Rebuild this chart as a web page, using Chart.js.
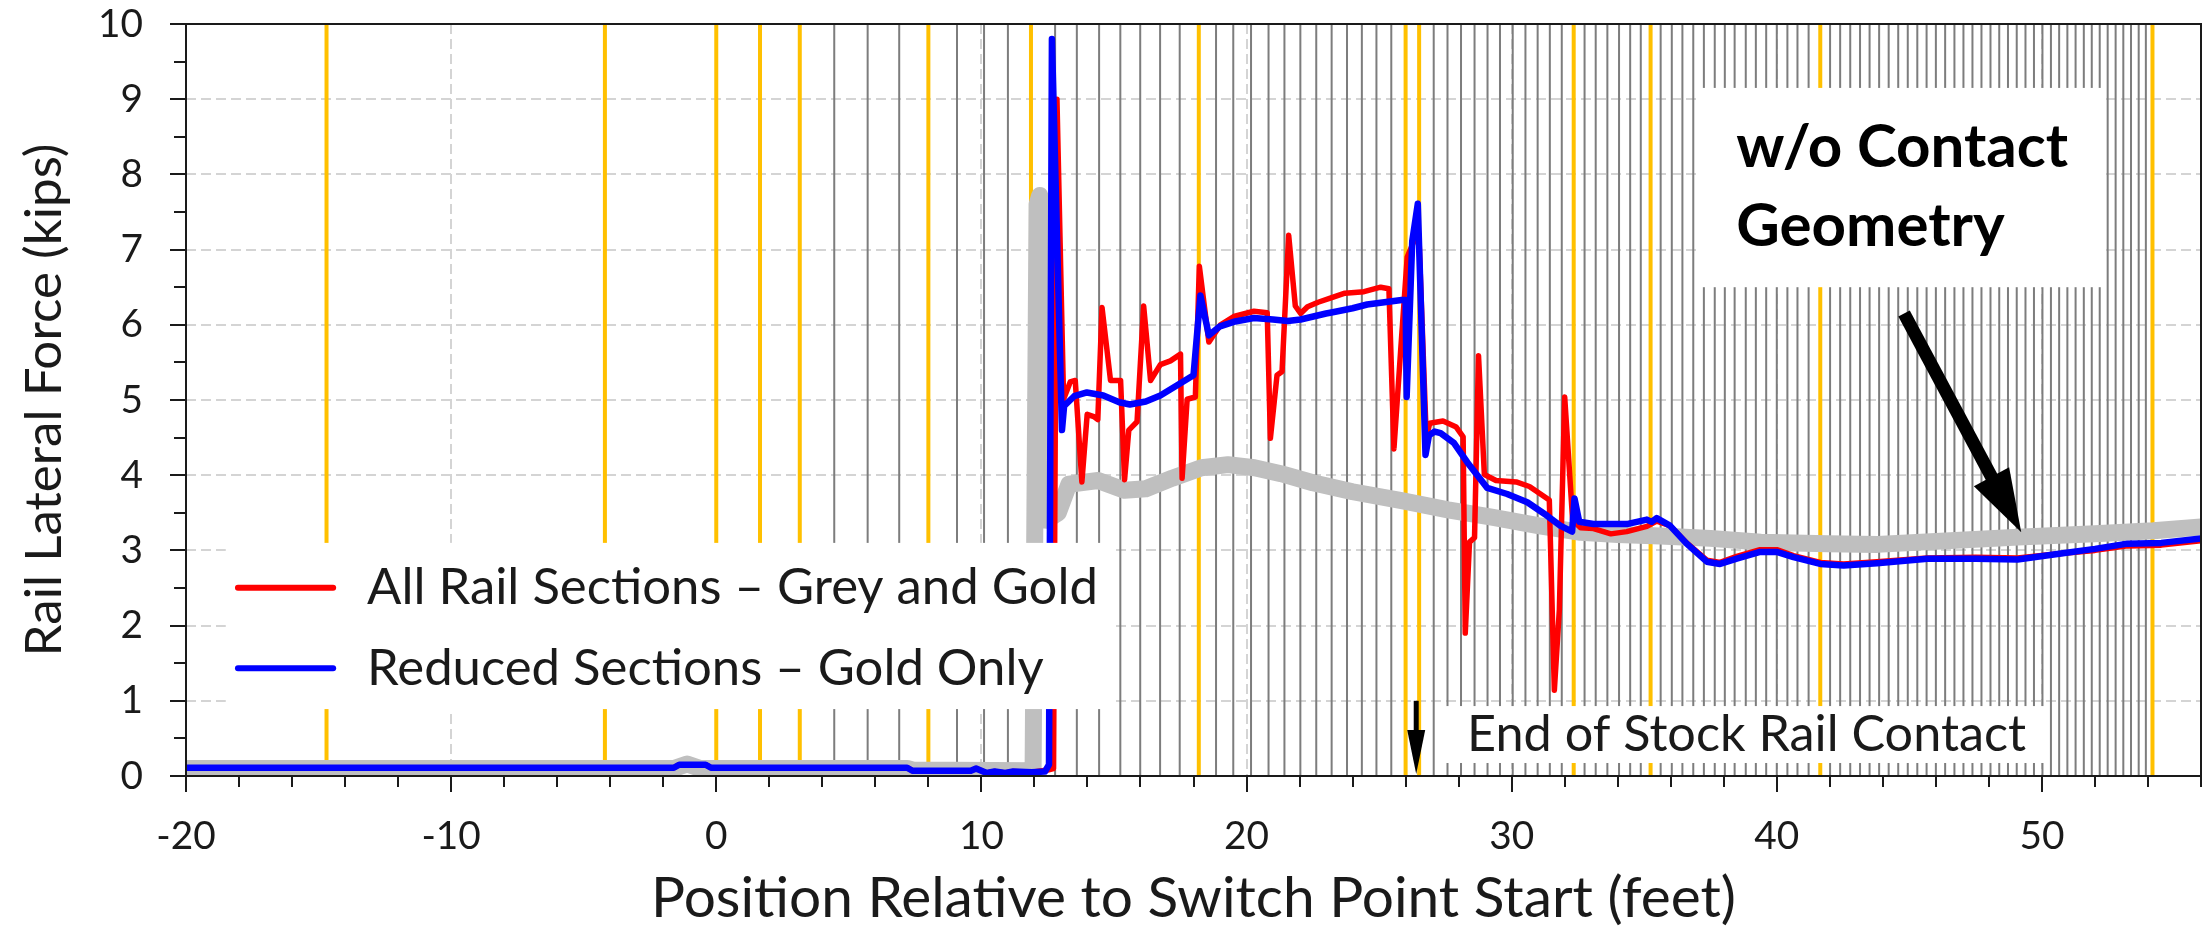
<!DOCTYPE html>
<html><head><meta charset="utf-8">
<script src="https://cdn.jsdelivr.net/npm/chart.js@4.4.0/dist/chart.umd.min.js"></script>
<style>html,body{margin:0;padding:0;background:#fff;}canvas{display:block;}</style>
</head><body>
<canvas id="c" width="2211" height="931"></canvas>
<script>
// ---------------- data ----------------
const xAxisRange = [-20, 56];
const yAxisRange = [0, 10];
const xTickLabels = [-20, -10, 0, 10, 20, 30, 40, 50];
const yTickLabels = [0, 1, 2, 3, 4, 5, 6, 7, 8, 9, 10];

const seriesNames = ['All Rail Sections \u2013 Grey and Gold', 'Reduced Sections \u2013 Gold Only'];

// gold rail-section positions (feet)
const goldSections = [-14.7, -4.2, 0, 1.65, 3.15, 8.0, 11.87, 18.2, 26.0, 26.51, 32.34, 35.24, 41.64, 54.17];
// grey rail-section positions (feet)
const greySections = [4.45, 5.71, 6.9, 9.08, 10.1, 11.0, 12.78, 13.6, 14.44, 15.24, 15.99, 16.74, 17.48,
  18.85, 19.5, 20.17, 20.83, 21.43, 22.03, 22.63, 23.21, 23.79, 24.35, 24.9, 25.46, 27.06, 27.58, 28.09,
  28.6, 29.09, 29.56, 30.04, 30.52, 30.98, 31.44, 31.89, 32.75, 33.17, 33.61, 34.05, 34.47, 34.87, 35.62,
  36.04, 36.44, 36.85, 37.25, 37.66, 38.04, 38.41, 38.83, 39.21, 39.6, 40.0, 40.4, 40.78, 41.2, 42.01,
  42.39, 42.77, 43.14, 43.5, 43.86, 44.22, 44.58, 44.94, 45.3, 45.65, 46.0, 46.35, 46.7, 47.04, 47.38,
  47.72, 48.06, 48.39, 48.72, 49.05, 49.38, 49.7, 50.02, 50.34, 50.65, 50.96, 51.27, 51.58, 51.88,
  52.18, 52.48, 52.78, 53.07, 53.36, 53.65, 53.92];

// w/o contact geometry (thick grey)
const greySeries = [[-20,0.1],[-1.6,0.1],[-1.1,0.16],[-0.6,0.1],[7.2,0.1],[7.4,0.08],[11.95,0.07],
  [12.1,7.6],[12.2,7.72],[12.3,7.6],[12.45,3.4],[12.9,3.5],[13.3,3.88],[14.4,3.93],[15.4,3.8],[16.2,3.82],
  [17.2,3.96],[18.3,4.1],[19.3,4.14],[20.3,4.1],[21.3,4.02],[22.5,3.9],[24.0,3.78],[25.9,3.66],[27.6,3.54],
  [29.3,3.44],[31.0,3.33],[32.6,3.24],[34.0,3.21],[35.6,3.19],[37.5,3.16],[39.4,3.11],[41.9,3.09],
  [43.8,3.08],[46.0,3.12],[49.3,3.18],[52.0,3.22],[54.2,3.26],[56.0,3.31]];

// All Rail Sections – Grey and Gold (red)
const redSeries = [[-20,0.11],[-1.6,0.11],[-1.4,0.15],[-0.4,0.15],[-0.2,0.11],[7.2,0.11],[7.4,0.07],
  [9.6,0.07],[9.8,0.1],[10.2,0.04],[10.5,0.06],[10.9,0.04],[11.2,0.06],[11.9,0.05],[12.5,0.08],[12.72,0.1],
  [12.85,9.0],[13.1,5.01],[13.35,5.24],[13.54,5.26],[13.79,3.91],[13.99,4.81],[14.24,4.78],[14.39,4.74],
  [14.55,6.23],[14.87,5.26],[15.25,5.26],[15.4,3.94],[15.56,4.6],[15.87,4.71],[16.12,6.25],[16.38,5.26],
  [16.75,5.47],[17.13,5.52],[17.51,5.61],[17.57,3.96],[17.76,5.01],[18.07,5.04],[18.22,6.78],[18.58,5.77],
  [19.02,6.0],[19.52,6.11],[20.28,6.18],[20.78,6.16],[20.9,4.49],[21.15,5.33],[21.34,5.38],[21.59,7.19],
  [21.84,6.25],[22.04,6.15],[22.3,6.24],[22.7,6.3],[23.13,6.35],[23.71,6.42],[24.43,6.44],[25.06,6.5],
  [25.37,6.48],[25.56,4.35],[25.81,5.64],[26.06,6.9],[26.31,7.11],[26.5,7.2],[26.78,4.5],[26.91,4.69],
  [27.41,4.72],[27.91,4.64],[28.17,4.51],[28.25,1.9],[28.41,3.11],[28.6,3.17],[28.75,5.59],[28.97,4.01],
  [29.41,3.93],[30.17,3.91],[30.67,3.85],[31.42,3.67],[31.61,1.14],[31.8,2.22],[32.0,5.04],[32.3,3.4],
  [32.6,3.3],[33.09,3.29],[33.74,3.22],[34.34,3.25],[35.1,3.32],[35.47,3.39],[35.97,3.33],[36.6,3.1],
  [37.36,2.87],[37.86,2.84],[38.49,2.92],[39.37,3.01],[40.0,3.01],[40.63,2.93],[41.64,2.84],[42.52,2.82],
  [43.78,2.85],[45.68,2.9],[47.5,2.91],[49.08,2.9],[50.72,2.96],[52.0,3.0],[53.23,3.06],[54.5,3.07],[56.0,3.13]];

// Reduced Sections – Gold Only (blue)
const blueSeries = [[-20,0.11],[-1.6,0.11],[-1.4,0.15],[-0.4,0.15],[-0.2,0.11],[7.2,0.11],[7.4,0.07],
  [9.6,0.07],[9.8,0.1],[10.2,0.04],[10.5,0.06],[10.9,0.04],[11.2,0.06],[11.9,0.05],[12.4,0.06],[12.55,0.15],
  [12.66,9.8],[13.04,4.6],[13.12,4.92],[13.5,5.05],[13.98,5.1],[14.6,5.06],[15.2,4.97],[15.6,4.94],
  [16.2,4.98],[16.75,5.06],[17.4,5.2],[18.0,5.33],[18.26,6.39],[18.58,5.86],[19.0,5.98],[19.52,6.04],
  [20.28,6.09],[21.0,6.07],[21.55,6.05],[22.04,6.07],[23.0,6.15],[23.3,6.17],[24.0,6.22],[24.55,6.27],
  [25.2,6.3],[25.85,6.33],[26.0,6.33],[26.04,5.04],[26.25,7.11],[26.46,7.61],[26.75,4.27],[26.88,4.53],
  [27.1,4.58],[27.32,4.56],[27.82,4.43],[28.33,4.17],[29.08,3.83],[29.83,3.75],[30.59,3.64],[31.34,3.46],
  [31.83,3.33],[32.28,3.25],[32.37,3.69],[32.55,3.38],[33.09,3.35],[34.34,3.35],[35.1,3.41],[35.28,3.38],
  [35.47,3.43],[35.97,3.33],[36.6,3.09],[37.36,2.85],[37.86,2.82],[38.49,2.89],[39.37,2.98],[40.0,2.98],
  [40.63,2.91],[41.64,2.82],[42.52,2.8],[43.78,2.83],[45.68,2.89],[47.5,2.89],[49.08,2.88],[50.72,2.96],
  [52.0,3.02],[53.23,3.09],[54.5,3.1],[56.0,3.16]];

// annotations (data coordinates)
const stockRailEndX = 26.4;
const bigArrow = {x1: 44.8, y1: 6.15, x2: 49.22, y2: 3.24};
// ---------------- end data ----------------

const FONT = 'Lato';
const mctx = document.createElement('canvas').getContext('2d');
function fit(text, weight, w) { mctx.font = weight + ' 100px ' + FONT; return 100 * w / mctx.measureText(text).width; }
const tickSize = fit('10', 'normal', 45);
const yTitleSize = fit('Rail Lateral Force (kips)', 'normal', 513);
const xTitleSize = fit('Position Relative to Switch Point Start (feet)', 'normal', 1085);
const legendSize = fit(seriesNames[0], 'normal', 731);
const endSize = fit('End of Stock Rail Contact', 'normal', 559);
const woSize = fit('w/o Contact', 'bold', 332);

const toXY = arr => arr.map(p => ({x: p[0], y: p[1]}));
const vlines = xs => { const d = []; xs.forEach(v => d.push({x: v, y: yAxisRange[0]}, {x: v, y: yAxisRange[1]}, {x: v, y: null})); return d; };

const TXT = '#1a1a1a';
const NONE = 'rgba(0,0,0,0)';

const annot = {
  id: 'annot',
  afterDatasetsDraw(chart) {
    const {ctx, chartArea: a} = chart;
    const xs = chart.scales.x, ys = chart.scales.y;
    const X = v => xs.getPixelForValue(v), Y = v => ys.getPixelForValue(v);
    ctx.save();
    // white boxes
    ctx.fillStyle = '#ffffff';
    const rect = (x0, y0, x1, y1) => ctx.fillRect(X(x0), Y(y1), X(x1) - X(x0), Y(y0) - Y(y1));
    rect(-18.5, 0.89, 14.93, 3.1);
    rect(27.23, 0.173, 50.09, 0.93);
    rect(37.07, 6.5, 52.31, 9.15);
    // legend
    const ds = chart.data.datasets;
    const legendRows = [[ds[0], 2.504], [ds[1], 1.432]];
    legendRows.forEach(([d, yy]) => {
      ctx.lineCap = 'round';
      ctx.strokeStyle = d.borderColor; ctx.lineWidth = 6;
      ctx.beginPath(); ctx.moveTo(X(-18.04), Y(yy)); ctx.lineTo(X(-14.45), Y(yy)); ctx.stroke();
      ctx.fillStyle = TXT; ctx.font = legendSize + 'px ' + FONT; ctx.textBaseline = 'middle'; ctx.textAlign = 'left';
      ctx.fillText(d.label, X(-13.17), Y(yy));
    });
    // text annotations
    ctx.textAlign = 'left'; ctx.textBaseline = 'middle';
    ctx.fillStyle = TXT;
    ctx.font = endSize + 'px ' + FONT;
    ctx.fillText('End of Stock Rail Contact', X(28.32), Y(0.545));
    ctx.font = 'bold ' + woSize + 'px ' + FONT;
    ctx.fillStyle = '#000';
    ctx.fillText('w/o Contact', X(38.47), Y(8.35));
    ctx.fillText('Geometry', X(38.47), Y(7.30));
    // arrows
    function arrow(x1, y1, x2, y2, shaft, headLen, headW) {
      const dx = x2 - x1, dy = y2 - y1, L = Math.hypot(dx, dy), ux = dx / L, uy = dy / L;
      const bx = x2 - ux * headLen, by = y2 - uy * headLen;
      ctx.strokeStyle = '#000'; ctx.lineWidth = shaft; ctx.lineCap = 'butt';
      ctx.beginPath(); ctx.moveTo(x1, y1); ctx.lineTo(bx + ux * 2, by + uy * 2); ctx.stroke();
      ctx.fillStyle = '#000';
      ctx.beginPath(); ctx.moveTo(x2, y2);
      ctx.lineTo(bx - uy * headW / 2, by + ux * headW / 2);
      ctx.lineTo(bx + uy * headW / 2, by - ux * headW / 2);
      ctx.closePath(); ctx.fill();
    }
    arrow(X(stockRailEndX), Y(1.0), X(stockRailEndX), a.bottom - 2, 5, 44, 18);
    arrow(X(bigArrow.x1), Y(bigArrow.y1), X(bigArrow.x2), Y(bigArrow.y2), 13, 63, 40);
    // frame
    ctx.strokeStyle = TXT; ctx.lineWidth = 2; ctx.lineCap = 'butt';
    ctx.strokeRect(a.left, a.top, a.right - a.left, a.bottom - a.top);
    // tick marks
    ctx.beginPath();
    xs.ticks.forEach(t => { const p = Math.round(X(t.value)); const len = (t.value % 10 === 0) ? 16 : 11; ctx.moveTo(p, a.bottom); ctx.lineTo(p, a.bottom + len); });
    ys.ticks.forEach(t => { const p = Math.round(Y(t.value)); const len = Number.isInteger(t.value) ? 16 : 12; ctx.moveTo(a.left, p); ctx.lineTo(a.left - len, p); });
    ctx.stroke();
    ctx.restore();
  }
};

new Chart(document.getElementById('c'), {
  type: 'scatter',
  data: {
    datasets: [
      {label: seriesNames[0], data: toXY(redSeries), borderColor: '#FF0000', backgroundColor: '#FF0000', borderWidth: 5.5, showLine: true, pointRadius: 0, order: 2, borderJoinStyle: 'round', borderCapStyle: 'round'},
      {label: seriesNames[1], data: toXY(blueSeries), borderColor: '#0000FF', backgroundColor: '#0000FF', borderWidth: 6.5, showLine: true, pointRadius: 0, order: 1, borderJoinStyle: 'round', borderCapStyle: 'round'},
      {label: 'w/o Contact Geometry', data: toXY(greySeries), borderColor: '#BFBFBF', backgroundColor: '#BFBFBF', borderWidth: 17, showLine: true, pointRadius: 0, order: 3, borderJoinStyle: 'round', borderCapStyle: 'round'},
      {label: 'Gold sections', data: vlines(goldSections), borderColor: '#FFC000', borderWidth: 4, showLine: true, pointRadius: 0, spanGaps: false, order: 4},
      {label: 'Grey sections', data: vlines(greySections), borderColor: '#7d7d7d', borderWidth: 2, showLine: true, pointRadius: 0, spanGaps: false, order: 5}
    ]
  },
  options: {
    responsive: false, animation: false, devicePixelRatio: 1,
    layout: {autoPadding: false, padding: {top: 24, right: 10, left: 0, bottom: 0}},
    plugins: {legend: {display: false}, tooltip: {enabled: false}},
    scales: {
      x: {
        type: 'linear', min: xAxisRange[0], max: xAxisRange[1],
        afterFit: s => { s.height = 155; },
        ticks: {stepSize: 2, autoSkip: false, maxRotation: 0, padding: 0, color: TXT,
          font: {family: FONT, size: tickSize},
          callback: v => xTickLabels.includes(v) ? String(v) : ''},
        grid: {drawTicks: true, tickLength: 60 - 0.6 * tickSize, tickColor: NONE, lineWidth: 2,
          color: c => (c.tick && xTickLabels.includes(c.tick.value) && c.tick.value !== xAxisRange[0]) ? '#D4D4D4' : NONE},
        border: {display: false, dash: [10, 5]},
        title: {display: true, text: 'Position Relative to Switch Point Start (feet)', color: TXT,
          font: {family: FONT, size: xTitleSize}, padding: {top: 0, bottom: 32 - 0.6 * xTitleSize}}
      },
      y: {
        type: 'linear', min: yAxisRange[0], max: yAxisRange[1],
        afterFit: s => { s.width = 186; },
        ticks: {stepSize: 0.5, autoSkip: false, padding: 0, color: TXT,
          font: {family: FONT, size: tickSize},
          callback: v => yTickLabels.includes(v) ? String(v) : ''},
        grid: {drawTicks: true, tickLength: 43, tickColor: NONE, lineWidth: 2,
          color: c => (c.tick && Number.isInteger(c.tick.value) && c.tick.value > 0 && c.tick.value < 10) ? '#D4D4D4' : NONE},
        border: {display: false, dash: [10, 5]},
        title: {display: true, text: 'Rail Lateral Force (kips)', color: TXT,
          font: {family: FONT, size: yTitleSize}, padding: {top: 44 - 0.6 * yTitleSize, bottom: 0}}
      }
    }
  },
  plugins: [annot]
});
</script>
</body></html>
